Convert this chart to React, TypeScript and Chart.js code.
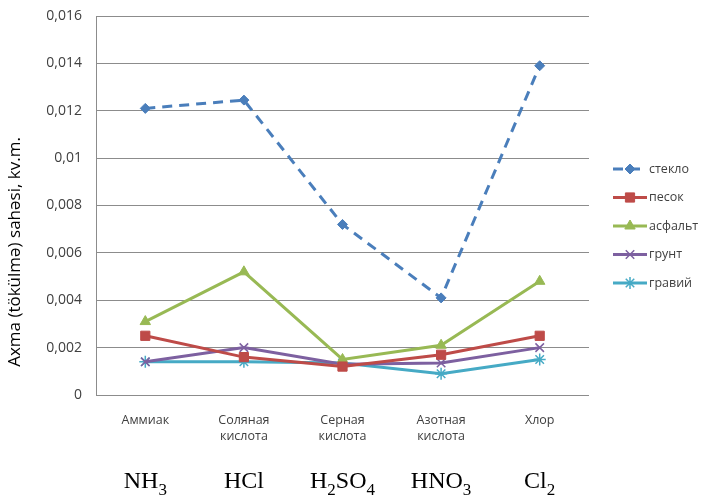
import React, { useEffect, useRef } from "react";
import { Chart, registerables } from "chart.js";
import { drawPoint } from "chart.js/helpers";

Chart.register(...registerables);

const categories: string[][] = [
  ["Аммиак"],
  ["Соляная", "кислота"],
  ["Серная", "кислота"],
  ["Азотная", "кислота"],
  ["Хлор"],
];
const formulas: string[] = ["NH₃", "HCl", "H₂SO₄", "HNO₃", "Cl₂"];

const seriesNames: string[] = ["стекло", "песок", "асфальт", "грунт", "гравий"];
const steklo: number[] = [0.0121, 0.01245, 0.0072, 0.0041, 0.0139];
const pesok: number[] = [0.0025, 0.0016, 0.0012, 0.0017, 0.0025];
const asfalt: number[] = [0.0031, 0.0052, 0.0015, 0.0021, 0.0048];
const grunt: number[] = [0.0014, 0.002, 0.0013, 0.00135, 0.002];
const graviy: number[] = [0.0014, 0.0014, 0.00135, 0.0009, 0.0015];

const yTitle = "Axma (tökülmə) sahəsi, kv.m.";
const yMin = 0;
const yMax = 0.016;
const yStep = 0.002;

const colors = ["#4A7EBB", "#BE4B48", "#98B954", "#7D60A0", "#46AAC5"];
const pointStyles = ["rectRot", "rect", "triangle", "crossRot", "star"];
const pointRadii = [5, 6.5, 6, 6, 6];

const SUBS = "₀₁₂₃₄₅₆₇₈₉";

const extrasPlugin = {
  id: "extras",
  afterDraw(chart: any) {
    const ctx = chart.ctx;
    // Y axis title
    ctx.save();
    ctx.translate(15, 252);
    ctx.rotate(-Math.PI / 2);
    ctx.font = "17px 'Open Sans'";
    ctx.fillStyle = "#000";
    ctx.textAlign = "center";
    ctx.textBaseline = "middle";
    ctx.fillText(yTitle, 0, 0);
    ctx.restore();

    // Formulas below categories
    const xs = chart.scales.x;
    const big = "24px 'Liberation Serif'";
    const small = "17px 'Liberation Serif'";
    formulas.forEach((f, i) => {
      const parts: { t: string; sub: boolean }[] = [];
      for (const ch of f) {
        const idx = SUBS.indexOf(ch);
        const sub = idx >= 0;
        const t = sub ? String(idx) : ch;
        const last = parts[parts.length - 1];
        if (last && last.sub === sub) last.t += t;
        else parts.push({ t, sub });
      }
      ctx.save();
      let w = 0;
      parts.forEach((p) => {
        ctx.font = p.sub ? small : big;
        w += ctx.measureText(p.t).width;
      });
      let x = xs.getPixelForValue(i) - w / 2;
      ctx.fillStyle = "#000";
      ctx.textBaseline = "alphabetic";
      ctx.textAlign = "left";
      parts.forEach((p) => {
        ctx.font = p.sub ? small : big;
        ctx.fillText(p.t, x, p.sub ? 495 : 488);
        x += ctx.measureText(p.t).width;
      });
      ctx.restore();
    });

    // Legend
    chart.data.datasets.forEach((ds: any, i: number) => {
      const y = 169 + i * 28.5;
      ctx.save();
      ctx.strokeStyle = ds.borderColor;
      ctx.lineWidth = 3;
      ctx.setLineDash(ds.borderDash || []);
      ctx.beginPath();
      ctx.moveTo(613, y);
      ctx.lineTo(647, y);
      ctx.stroke();
      ctx.setLineDash([]);
      ctx.fillStyle = ds.pointBackgroundColor;
      ctx.strokeStyle = ds.pointBorderColor;
      ctx.lineWidth = ds.pointBorderWidth;
      drawPoint(ctx, { pointStyle: ds.pointStyle, radius: ds.pointRadius, borderWidth: ds.pointBorderWidth, rotation: 0 } as any, 630, y);
      ctx.font = "12.5px 'Open Sans'";
      ctx.fillStyle = "#404040";
      ctx.textAlign = "left";
      ctx.textBaseline = "middle";
      ctx.fillText(ds.label, 649, y);
      ctx.restore();
    });
  },
};

export default function App() {
  const ref = useRef<HTMLCanvasElement | null>(null);
  useEffect(() => {
    if (!ref.current) return;
    const values = [steklo, pesok, asfalt, grunt, graviy];
    const chart = new Chart(ref.current, {
      type: "line",
      data: {
        labels: categories,
        datasets: values.map((v, i) => ({
          label: seriesNames[i],
          data: v,
          borderColor: colors[i],
          backgroundColor: colors[i],
          pointBackgroundColor: colors[i],
          pointBorderColor: colors[i],
          pointBorderWidth: i >= 3 ? 1.5 : 1,
          pointStyle: pointStyles[i],
          pointRadius: pointRadii[i],
          borderWidth: 3,
          borderDash: i === 0 ? [10, 7] : [],
          tension: 0,
          fill: false,
        })),
      },
      options: {
        animation: false,
        responsive: true,
        maintainAspectRatio: false,
        layout: { autoPadding: false, padding: { top: 16, right: 115, left: 0, bottom: 0 } },
        plugins: { legend: { display: false }, tooltip: { enabled: false } },
        scales: {
          x: {
            offset: true,
            grid: { display: false },
            border: { display: false },
            ticks: {
              color: "#404040",
              font: { family: "'Open Sans'", size: 12.5, lineHeight: 1.25 },
              padding: 10,
              maxRotation: 0,
              autoSkip: false,
            },
            afterFit: (s: any) => {
              s.height = 106;
            },
          },
          y: {
            min: yMin,
            max: yMax,
            grid: { color: "#8C8C8C", lineWidth: 1, drawTicks: false },
            border: { display: true, color: "#8C8C8C", width: 1 },
            ticks: {
              stepSize: yStep,
              padding: 14,
              color: "#404040",
              font: { family: "'Open Sans'", size: 14 },
              callback: (v: any) => String(Number(Number(v).toFixed(3))).replace(".", ","),
            },
            afterFit: (s: any) => {
              s.width = 96;
              s.paddingTop = 0;
              s.paddingBottom = 0;
            },
          },
        },
      },
      plugins: [extrasPlugin],
    });
    return () => chart.destroy();
  }, []);
  return (
    <div style={{ position: "absolute", left: 0, top: 0, width: 704, height: 501, background: "#fff" }}>
      <canvas ref={ref} />
    </div>
  );
}
